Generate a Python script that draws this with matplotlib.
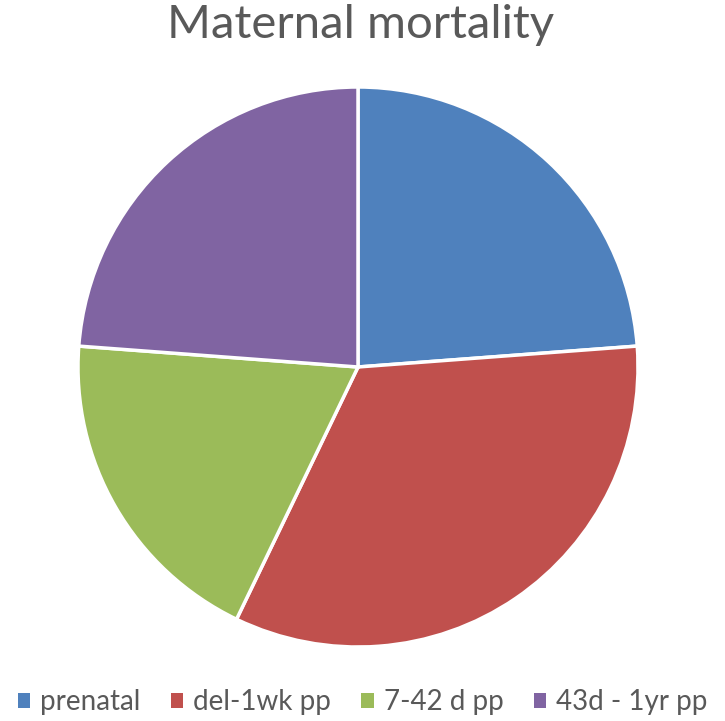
import matplotlib.pyplot as plt
from matplotlib.patches import Patch

# Data
labels = ['prenatal', 'del-1wk pp', '7-42 d pp', '43d - 1yr pp']
counts = [5, 7, 4, 5]
colors = ['#4F81BD', '#C0504D', '#9BBB59', '#8064A2']

plt.rcParams['font.family'] = ['Lato', 'DejaVu Sans']

fig = plt.figure(figsize=(7.25, 7.21), dpi=100)

# pie centred at about (358, 367) px with radius 280 px
cx, cy, r = 358, 367, 280
ax = fig.add_axes([(cx - r) / 725, (721 - cy - r) / 721, 2 * r / 725, 2 * r / 721])
ax.pie(counts, colors=colors, startangle=90, counterclock=False,
       wedgeprops=dict(edgecolor='white', linewidth=2.5))
ax.set_xlim(-1, 1)
ax.set_ylim(-1, 1)
ax.set_aspect('equal')
ax.axis('off')

fig.text(0.497, 0.965, 'Maternal mortality', ha='center', va='center',
         fontsize=34, color='#595959')

handles = [Patch(facecolor=c, edgecolor='none') for c in colors]
fig.legend(handles, labels, loc='center', bbox_to_anchor=(0.5, 0.026),
           ncol=4, frameon=False, fontsize=20, labelcolor='#595959',
           handlelength=0.45, handleheight=0.45, handletextpad=0.35,
           columnspacing=1.1, borderpad=0, borderaxespad=0)

fig.savefig('out.png', dpi=100)
